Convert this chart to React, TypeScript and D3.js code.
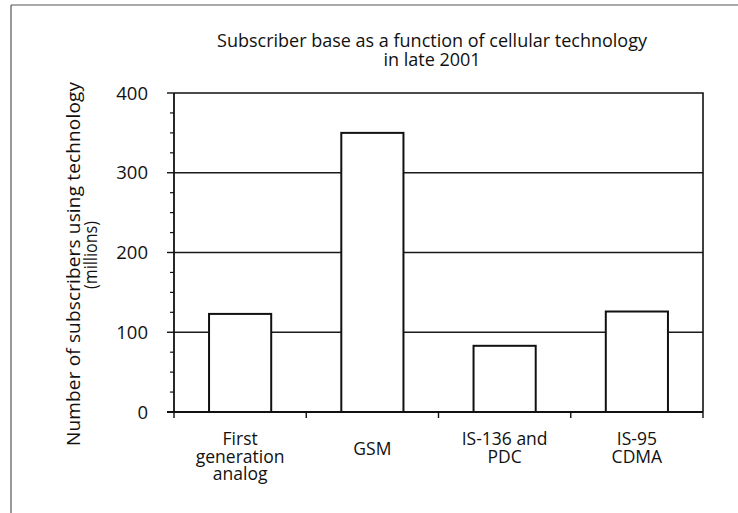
import React, { useEffect, useRef } from "react";
import * as d3 from "d3";

// values (millions of subscribers, late 2001)
const categories = ["First generation analog", "GSM", "IS-136 and PDC", "IS-95 CDMA"];
const categoryLines = [["First", "generation", "analog"], ["GSM"], ["IS-136 and", "PDC"], ["IS-95", "CDMA"]];
const subscribers = [123, 350, 83, 126];
const yTicks = [0, 100, 200, 300, 400];
const yMinorTicks = [25, 50, 75, 125, 150, 175, 225, 250, 275, 325, 350, 375];
const titleLines = ["Subscriber base as a function of cellular technology", "in late 2001"];
const yLabelLines = ["Number of subscribers using technology", "(millions)"];

const W = 738;
const H = 513;
const FONT = "'Open Sans', 'DejaVu Sans', sans-serif";

export default function App() {
  const ref = useRef<SVGSVGElement>(null);

  useEffect(() => {
    const svg = d3.select(ref.current);
    svg.selectAll("*").remove();

    const left = 174, right = 703, top = 93, bottom = 412;

    const x = d3.scaleBand<string>()
      .domain(categories)
      .range([left, right])
      .paddingInner(0.53)
      .paddingOuter(0.265);
    const step = (right - left) / categories.length;
    const y = d3.scaleLinear().domain([0, 400]).range([bottom, top]);

    // outer page frame (scan edge)
    svg.append("line")
      .attr("x1", 11).attr("x2", W).attr("y1", 5).attr("y2", 5)
      .attr("stroke", "#555").attr("stroke-width", 1.2);
    svg.append("line")
      .attr("x1", 11).attr("x2", 11).attr("y1", 5).attr("y2", H)
      .attr("stroke", "#555").attr("stroke-width", 1.2);

    // title
    svg.append("g")
      .selectAll("text")
      .data(titleLines)
      .join("text")
      .attr("x", 432)
      .attr("y", (d, i) => 47 + i * 18.5)
      .attr("text-anchor", "middle")
      .style("font-family", FONT)
      .style("font-size", "18px")
      .attr("fill", "#111")
      .text(d => d);

    // grid lines
    svg.append("g")
      .selectAll("line")
      .data(yTicks.filter(t => t > 0 && t < 400))
      .join("line")
      .attr("x1", left).attr("x2", right)
      .attr("y1", d => y(d)).attr("y2", d => y(d))
      .attr("stroke", "#1a1a1a")
      .attr("stroke-width", 1.5);

    // frame: top + right
    svg.append("path")
      .attr("d", `M${left},${y(400)}H${right}V${bottom}`)
      .attr("fill", "none")
      .attr("stroke", "#111")
      .attr("stroke-width", 1.6);

    // bars
    svg.append("g")
      .selectAll("rect")
      .data(categories)
      .join("rect")
      .attr("x", d => x(d)!)
      .attr("width", x.bandwidth())
      .attr("y", (d, i) => y(subscribers[i]))
      .attr("height", (d, i) => bottom - y(subscribers[i]))
      .attr("fill", "#fff")
      .attr("stroke", "#111")
      .attr("stroke-width", 2);

    // y axis
    const yAxis = svg.append("g");
    yAxis.append("line")
      .attr("x1", left).attr("x2", left).attr("y1", top).attr("y2", bottom)
      .attr("stroke", "#111").attr("stroke-width", 1.8);
    yAxis.selectAll(".major")
      .data(yTicks)
      .join("line")
      .attr("class", "major")
      .attr("x1", left - 7).attr("x2", left)
      .attr("y1", d => y(d)).attr("y2", d => y(d))
      .attr("stroke", "#111").attr("stroke-width", 1.4);
    yAxis.selectAll(".minor")
      .data(yMinorTicks)
      .join("line")
      .attr("class", "minor")
      .attr("x1", left - 4).attr("x2", left)
      .attr("y1", d => y(d)).attr("y2", d => y(d))
      .attr("stroke", "#111").attr("stroke-width", 1.2);
    yAxis.selectAll("text")
      .data(yTicks)
      .join("text")
      .attr("x", 148)
      .attr("y", d => y(d) + 6.5)
      .attr("text-anchor", "end")
      .style("font-family", FONT)
      .style("font-size", "18.5px")
      .attr("fill", "#111")
      .text(d => d);

    // y label
    svg.append("g")
      .selectAll("text")
      .data(yLabelLines)
      .join("text")
      .attr("transform", (d, i) => i === 0 ? "translate(80, 264) rotate(-90)" : "translate(97, 255) rotate(-90)")
      .attr("text-anchor", "middle")
      .attr("textLength", (d, i) => (i === 0 ? 364 : 68))
      .attr("lengthAdjust", (d, i) => (i === 0 ? "spacing" : "spacingAndGlyphs"))
      .style("font-family", FONT)
      .style("font-size", "19px")
      .attr("fill", "#111")
      .text(d => d);

    // x axis
    const xAxis = svg.append("g");
    xAxis.append("line")
      .attr("x1", left - 7).attr("x2", right).attr("y1", bottom).attr("y2", bottom)
      .attr("stroke", "#111").attr("stroke-width", 1.8);
    xAxis.selectAll(".tick")
      .data(d3.range(categories.length + 1))
      .join("line")
      .attr("class", "tick")
      .attr("x1", i => left + i * step).attr("x2", i => left + i * step)
      .attr("y1", bottom).attr("y2", bottom + 6)
      .attr("stroke", "#111").attr("stroke-width", 1.4);

    const labels = xAxis.selectAll(".lab")
      .data(categories)
      .join("text")
      .attr("class", "lab")
      .attr("text-anchor", "middle")
      .style("font-family", FONT)
      .style("font-size", "17.5px")
      .attr("fill", "#111");
    labels.each(function (d, i) {
      const lines = categoryLines[i];
      const cx = x(d)! + x.bandwidth() / 2;
      const y0 = lines.length === 1 ? 455 : 445;
      d3.select(this)
        .selectAll("tspan")
        .data(lines)
        .join("tspan")
        .attr("x", cx)
        .attr("y", (l, j) => y0 + j * 17.5)
        .text(l => l);
    });
  }, []);

  return (
    <svg
      ref={ref}
      width={W}
      height={H}
      style={{ position: "absolute", left: 0, top: 0, background: "#fff" }}
    />
  );
}
